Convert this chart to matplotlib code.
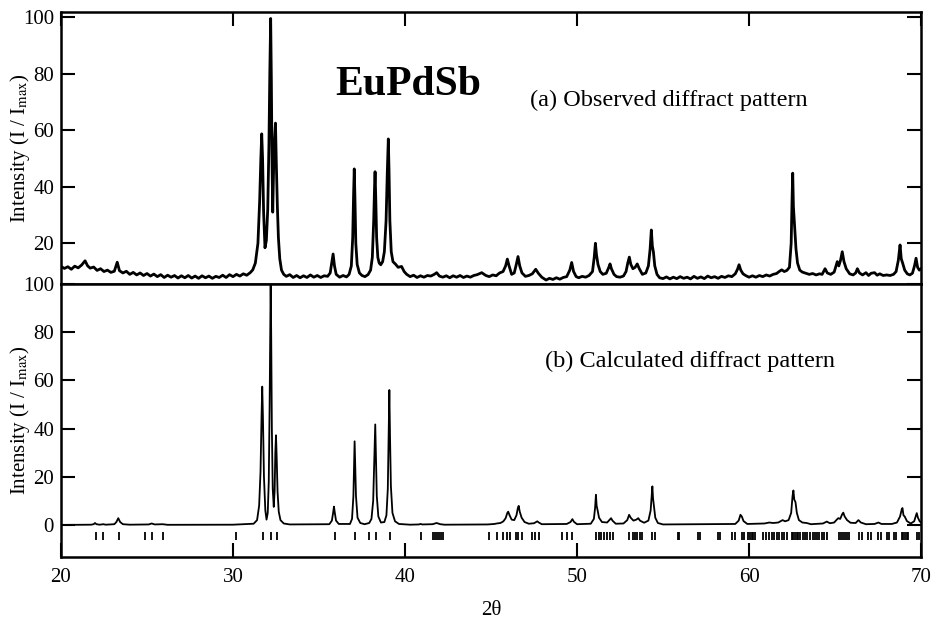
import numpy as np
import matplotlib
matplotlib.use("Agg")
import matplotlib.pyplot as plt

plt.rcParams['font.family'] = ['Liberation Serif', 'DejaVu Serif']
plt.rcParams['mathtext.fontset'] = 'stix'

# (a) observed pattern, (2theta, I/Imax)
obs_points = [
    (20.0, 11.8), (20.2, 11.1), (20.4, 11.7), (20.6, 10.8), (20.8, 11.9), (21.0, 11.3),
    (21.2, 12.3), (21.4, 13.8), (21.55, 12.0), (21.7, 11.2), (21.9, 11.6), (22.1, 10.4),
    (22.3, 11.0), (22.5, 10.0), (22.7, 10.5), (22.9, 9.7), (23.1, 10.1), (23.27, 13.3),
    (23.4, 10.3), (23.6, 9.5), (23.8, 10.1), (24.0, 9.0), (24.2, 9.7), (24.4, 8.8),
    (24.6, 9.5), (24.8, 8.6), (25.0, 9.3), (25.2, 8.4), (25.4, 9.1), (25.6, 8.2),
    (25.8, 8.9), (26.0, 7.9), (26.2, 8.7), (26.4, 8.0), (26.6, 8.6), (26.8, 7.7),
    (27.0, 8.5), (27.2, 7.8), (27.4, 8.6), (27.6, 7.7), (27.8, 8.4), (28.0, 7.6),
    (28.2, 8.5), (28.4, 7.8), (28.6, 8.4), (28.8, 7.6), (29.0, 8.3), (29.2, 7.9),
    (29.4, 8.7), (29.6, 7.9), (29.8, 8.9), (30.0, 8.2), (30.2, 9.0), (30.4, 8.4),
    (30.6, 9.2), (30.8, 8.7), (31.0, 9.6), (31.15, 10.6),
    (31.3, 13.0), (31.45, 20.0), (31.55, 35.0), (31.62, 50.0), (31.67, 58.7), (31.72, 50.0),
    (31.78, 31.0), (31.86, 18.4), (31.94, 21.0), (32.02, 32.0), (32.09, 55.0), (32.14, 80.0),
    (32.19, 99.5), (32.23, 78.0), (32.27, 48.0), (32.31, 31.0), (32.36, 46.0), (32.42, 57.0),
    (32.47, 62.5), (32.52, 48.0), (32.58, 33.0), (32.64, 22.0), (32.72, 14.5), (32.82, 10.5),
    (32.95, 9.0), (33.1, 8.3), (33.3, 8.9), (33.5, 7.9), (33.7, 8.6), (33.9, 7.8),
    (34.1, 8.5), (34.3, 7.9), (34.5, 8.8), (34.7, 8.0), (34.9, 8.6), (35.1, 7.9),
    (35.3, 8.5), (35.5, 8.3), (35.65, 9.5), (35.75, 13.5), (35.82, 16.2), (35.9, 12.0),
    (36.0, 9.0), (36.2, 8.0), (36.4, 8.6), (36.6, 8.1), (36.75, 9.0), (36.88, 12.0),
    (36.96, 22.0), (37.01, 37.0), (37.05, 46.3), (37.09, 36.0), (37.14, 20.0), (37.22, 12.5),
    (37.35, 9.5), (37.5, 8.6), (37.67, 8.2), (37.85, 8.9), (38.0, 10.5), (38.1, 15.0),
    (38.18, 28.0), (38.23, 40.0), (38.26, 45.3), (38.3, 36.0), (38.35, 22.0), (38.42, 15.0),
    (38.5, 13.0), (38.59, 12.4), (38.7, 13.5), (38.8, 17.0), (38.9, 28.0), (38.97, 45.0),
    (39.03, 56.9), (39.07, 46.0), (39.12, 28.0), (39.2, 17.0), (39.3, 13.5), (39.45, 12.6),
    (39.6, 11.5), (39.8, 11.8), (39.95, 10.0), (40.1, 9.0), (40.3, 8.2), (40.5, 8.7),
    (40.7, 7.9), (40.9, 8.5), (41.1, 8.0), (41.3, 8.6), (41.5, 8.4), (41.7, 9.0),
    (41.84, 9.6), (42.0, 8.4), (42.2, 8.0), (42.4, 8.5), (42.6, 7.8), (42.8, 8.5),
    (43.0, 8.0), (43.2, 8.6), (43.4, 7.9), (43.6, 8.4), (43.8, 8.0), (44.0, 8.6),
    (44.2, 8.9), (44.46, 9.6), (44.7, 8.6), (44.9, 8.2), (45.1, 8.8), (45.3, 8.5),
    (45.5, 9.5), (45.7, 10.0), (45.85, 12.0), (45.95, 14.4), (46.05, 12.0), (46.2, 9.0),
    (46.35, 9.5), (46.47, 12.5), (46.57, 15.3), (46.67, 12.0), (46.8, 9.5), (47.0, 8.3),
    (47.2, 8.6), (47.4, 9.2), (47.6, 10.8), (47.75, 9.4), (47.95, 8.0), (48.2, 7.0),
    (48.4, 7.6), (48.6, 7.2), (48.8, 7.8), (49.0, 7.3), (49.2, 7.9), (49.4, 8.2),
    (49.58, 10.5), (49.69, 13.2), (49.8, 10.0), (49.95, 8.2), (50.1, 7.8), (50.3, 8.3),
    (50.5, 8.0), (50.7, 8.6), (50.9, 10.0), (51.0, 15.0), (51.07, 20.0), (51.13, 16.0),
    (51.22, 12.5), (51.35, 10.0), (51.5, 9.0), (51.7, 9.4), (51.85, 11.5), (51.92, 12.7),
    (52.0, 11.0), (52.15, 9.0), (52.3, 8.2), (52.5, 8.0), (52.7, 8.4), (52.85, 10.0),
    (52.95, 13.0), (53.04, 15.1), (53.13, 12.5), (53.25, 11.0), (53.38, 11.5), (53.5, 12.7),
    (53.62, 11.0), (53.8, 9.0), (54.0, 9.5), (54.15, 12.0), (54.25, 18.0), (54.32, 24.7),
    (54.38, 19.0), (54.44, 17.0), (54.52, 12.0), (54.65, 9.0), (54.8, 7.8), (55.0, 7.5),
    (55.2, 8.1), (55.4, 7.4), (55.6, 8.0), (55.8, 7.5), (56.0, 8.2), (56.2, 7.6),
    (56.4, 8.0), (56.6, 7.4), (56.8, 8.3), (57.0, 7.6), (57.2, 8.1), (57.4, 7.5),
    (57.6, 8.4), (57.8, 7.8), (58.0, 8.2), (58.2, 7.6), (58.4, 8.3), (58.6, 7.9),
    (58.8, 8.5), (59.0, 8.2), (59.2, 9.2), (59.33, 10.8), (59.42, 12.4), (59.52, 10.5),
    (59.65, 9.2), (59.8, 8.6), (60.0, 8.0), (60.2, 8.5), (60.4, 8.0), (60.6, 8.6),
    (60.8, 8.2), (61.0, 8.8), (61.2, 8.4), (61.4, 9.0), (61.6, 9.3), (61.75, 10.0),
    (61.9, 10.6), (62.05, 10.0), (62.2, 10.4), (62.35, 11.5), (62.45, 20.0), (62.5, 35.0),
    (62.54, 44.8), (62.58, 33.0), (62.62, 29.0), (62.67, 24.0), (62.73, 18.0), (62.82, 13.0),
    (62.95, 10.5), (63.1, 9.8), (63.3, 9.4), (63.5, 9.0), (63.7, 9.3), (63.9, 8.8),
    (64.1, 9.2), (64.25, 9.0), (64.42, 11.0), (64.55, 9.5), (64.75, 9.0), (64.95, 9.8),
    (65.08, 12.5), (65.13, 13.5), (65.22, 12.0), (65.32, 14.0), (65.42, 17.0), (65.52, 13.5),
    (65.65, 11.0), (65.85, 9.2), (66.05, 8.8), (66.2, 9.5), (66.3, 11.0), (66.42, 9.5),
    (66.6, 8.8), (66.8, 9.6), (66.95, 8.6), (67.1, 9.4), (67.3, 9.6), (67.45, 8.7),
    (67.6, 9.2), (67.8, 8.6), (68.0, 8.8), (68.2, 8.6), (68.4, 9.0), (68.55, 10.0),
    (68.68, 14.0), (68.78, 19.4), (68.85, 14.5), (68.93, 13.0), (69.05, 10.5), (69.2, 9.2),
    (69.35, 8.8), (69.5, 9.4), (69.62, 12.0), (69.71, 14.7), (69.8, 11.5), (69.9, 10.5),
    (70.0, 11.0),
]

# (b) calculated pattern
calc_points = [
    (20.0, 0.0), (21.75, 0.1), (21.9, 0.3), (21.98, 0.8), (22.06, 0.3), (22.25, 0.1),
    (22.46, 0.3), (22.6, 0.1), (23.1, 0.3), (23.22, 1.2), (23.33, 2.8), (23.44, 1.2),
    (23.6, 0.3), (24.0, 0.1), (25.1, 0.2), (25.27, 0.6), (25.45, 0.2), (25.91, 0.3),
    (26.2, 0.05), (30.0, 0.1), (31.2, 0.5), (31.4, 2.0), (31.52, 8.0), (31.6, 22.0),
    (31.66, 45.0), (31.7, 57.4), (31.74, 45.0), (31.8, 20.0), (31.88, 6.0), (31.95, 2.2),
    (32.02, 5.0), (32.08, 18.0), (32.13, 50.0), (32.17, 85.0), (32.19, 100.0), (32.22, 80.0),
    (32.26, 40.0), (32.31, 15.0), (32.37, 7.5), (32.42, 14.0), (32.46, 30.0), (32.5, 37.2),
    (32.54, 28.0), (32.59, 14.0), (32.66, 5.5), (32.76, 2.0), (32.95, 0.6), (33.3, 0.2),
    (35.6, 0.3), (35.75, 1.8), (35.82, 5.0), (35.87, 7.6), (35.92, 5.0), (35.99, 1.8),
    (36.15, 0.4), (36.8, 0.4), (36.92, 2.5), (37.0, 12.0), (37.04, 26.0), (37.07, 34.7),
    (37.1, 26.0), (37.15, 12.0), (37.24, 3.0), (37.4, 0.8), (37.65, 0.3), (37.92, 0.8),
    (38.05, 2.5), (38.15, 10.0), (38.22, 28.0), (38.27, 41.7), (38.31, 28.0), (38.36, 12.0),
    (38.45, 3.5), (38.6, 1.0), (38.8, 1.2), (38.92, 4.0), (39.0, 15.0), (39.05, 38.0),
    (39.09, 56.0), (39.13, 36.0), (39.18, 16.0), (39.27, 5.0), (39.42, 1.5), (39.65, 0.4),
    (40.3, 0.1), (40.8, 0.2), (40.91, 0.4), (41.0, 0.2), (41.6, 0.3), (41.84, 0.8),
    (42.05, 0.3), (42.3, 0.1), (44.8, 0.2), (45.2, 0.4), (45.33, 0.6), (45.55, 0.8),
    (45.72, 1.5), (45.85, 2.8), (45.95, 5.0), (46.0, 5.5), (46.08, 4.0), (46.2, 2.2),
    (46.35, 2.0), (46.48, 4.0), (46.56, 7.0), (46.61, 7.9), (46.67, 5.5), (46.78, 3.0),
    (46.95, 1.2), (47.2, 0.5), (47.5, 0.7), (47.62, 1.2), (47.69, 1.5), (47.78, 1.0),
    (47.95, 0.3), (49.4, 0.4), (49.62, 1.2), (49.73, 2.4), (49.82, 1.3), (50.0, 0.3),
    (50.8, 0.5), (50.98, 2.5), (51.05, 7.0), (51.1, 12.5), (51.14, 8.0), (51.2, 6.0),
    (51.28, 3.0), (51.45, 1.2), (51.75, 1.0), (51.9, 2.2), (51.98, 2.8), (52.06, 1.8),
    (52.25, 0.5), (52.7, 0.6), (52.92, 2.0), (53.03, 4.2), (53.12, 3.0), (53.28, 1.8),
    (53.45, 2.2), (53.56, 2.8), (53.66, 1.8), (53.9, 0.9), (54.15, 1.8), (54.28, 6.0),
    (54.34, 12.0), (54.38, 16.0), (54.42, 11.0), (54.47, 8.0), (54.55, 3.0), (54.7, 0.8),
    (55.0, 0.2), (59.2, 0.4), (59.4, 1.8), (59.5, 4.2), (59.58, 3.5), (59.68, 1.6),
    (59.9, 0.4), (60.9, 0.6), (61.18, 1.0), (61.4, 0.8), (61.7, 1.0), (61.95, 2.0),
    (62.1, 1.5), (62.3, 2.0), (62.45, 5.0), (62.53, 12.0), (62.58, 14.3), (62.63, 10.5),
    (62.7, 9.5), (62.78, 5.0), (62.9, 2.0), (63.1, 1.0), (63.35, 0.8), (63.6, 0.3),
    (64.3, 0.6), (64.52, 1.4), (64.7, 0.7), (64.95, 1.0), (65.1, 2.2), (65.19, 2.8),
    (65.3, 2.5), (65.42, 4.5), (65.48, 5.1), (65.56, 3.5), (65.7, 2.0), (65.9, 0.9),
    (66.2, 0.8), (66.36, 2.0), (66.5, 1.0), (66.8, 0.3), (67.3, 0.4), (67.52, 1.0),
    (67.7, 0.4), (68.3, 0.4), (68.6, 1.0), (68.78, 3.5), (68.88, 6.5), (68.92, 7.0),
    (68.98, 4.0), (69.05, 3.5), (69.18, 1.6), (69.4, 0.6), (69.6, 1.5), (69.7, 3.8),
    (69.75, 4.9), (69.82, 3.0), (69.92, 1.5), (70.0, 1.0),
]

# Bragg reflection positions (tick marks under calc pattern)
reflections = [
    22.02, 22.46, 23.37, 24.88, 25.27, 25.91, 30.16, 31.76, 32.22, 32.54, 35.93,
    37.09, 37.92, 38.30, 39.13, 40.93, 41.65, 41.77, 41.88, 42.00, 42.12, 42.23,
    44.88, 45.33, 45.72, 45.91, 46.10, 46.43, 46.58, 46.78, 47.36, 47.56, 47.81,
    49.13, 49.41, 49.73, 51.09, 51.25, 51.40, 51.56, 51.73, 51.92, 52.11,
    53.04, 53.24, 53.37, 53.51, 53.66, 53.80, 54.38, 54.53, 55.85, 55.95,
    57.05, 57.15, 58.22, 58.31, 58.99, 59.19, 59.57, 59.71, 59.96, 60.06, 60.16,
    60.25, 60.35, 60.83, 60.99, 61.18, 61.32, 61.45, 61.61, 61.76, 61.90, 62.03,
    62.19, 62.48, 62.58, 62.67, 62.77, 62.87, 62.97, 63.12, 63.26, 63.39, 63.55,
    63.70, 63.84, 63.94, 64.07, 64.23, 64.36, 64.52, 65.25, 65.37, 65.48, 65.60,
    65.72, 65.83, 66.41, 66.55, 66.94, 67.08, 67.52, 67.66, 68.01, 68.14, 68.43,
    68.53, 68.88, 68.97, 69.07, 69.17, 69.26, 69.78, 69.88,
]

x_ticks = [20, 30, 40, 50, 60, 70]
y_ticks = [0, 20, 40, 60, 80, 100]
ylabel = r'Intensity (I / I$_{\rm max}$)'

obs_x, obs_y = np.array(obs_points).T
calc_x, calc_y = np.array(calc_points).T

fig = plt.figure(figsize=(9.31, 6.21), dpi=100)
ax1 = fig.add_axes([0.0655, 0.5427, 0.9238, 0.438])
ax2 = fig.add_axes([0.0655, 0.1031, 0.9238, 0.4396], sharex=ax1)

ax1.plot(obs_x, obs_y, color='black', lw=2.0)
ax2.plot(calc_x, calc_y, color='black', lw=1.3)
ax2.vlines(reflections, -6.3, -2.8, color='black', lw=1.3)

ax1.set_xlim(20, 70)
ax1.set_ylim(5.6, 101.8)
ax2.set_ylim(-13.3, 100)

ax1.set_yticks(y_ticks[1:])
ax2.set_yticks(y_ticks)
ax2.set_xticks(x_ticks)

for ax in (ax1, ax2):
    for sp in ax.spines.values():
        sp.set_linewidth(1.8)
    ax.tick_params(direction='in', length=10, width=1.5, labelsize=15,
                   left=True, right=True, pad=5)
    ax.set_ylabel(ylabel, fontsize=15)
    ax.yaxis.set_label_coords(-0.034, 0.5)

ax1.tick_params(axis='x', top=True, bottom=False, labelbottom=False)
ax2.tick_params(axis='x', top=False, bottom=True, pad=8)
ax2.set_xlabel('2θ', fontsize=15, labelpad=10)

ax1.text(40.17, 76, 'EuPdSb', fontsize=30, fontweight='bold', ha='center', va='center')
ax1.text(47.27, 70.7, '(a) Observed diffract pattern', fontsize=17.5, ha='left', va='center')
ax2.text(48.14, 67.9, '(b) Calculated diffract pattern', fontsize=17.5, ha='left', va='center')

fig.savefig('out.png', dpi=100)
